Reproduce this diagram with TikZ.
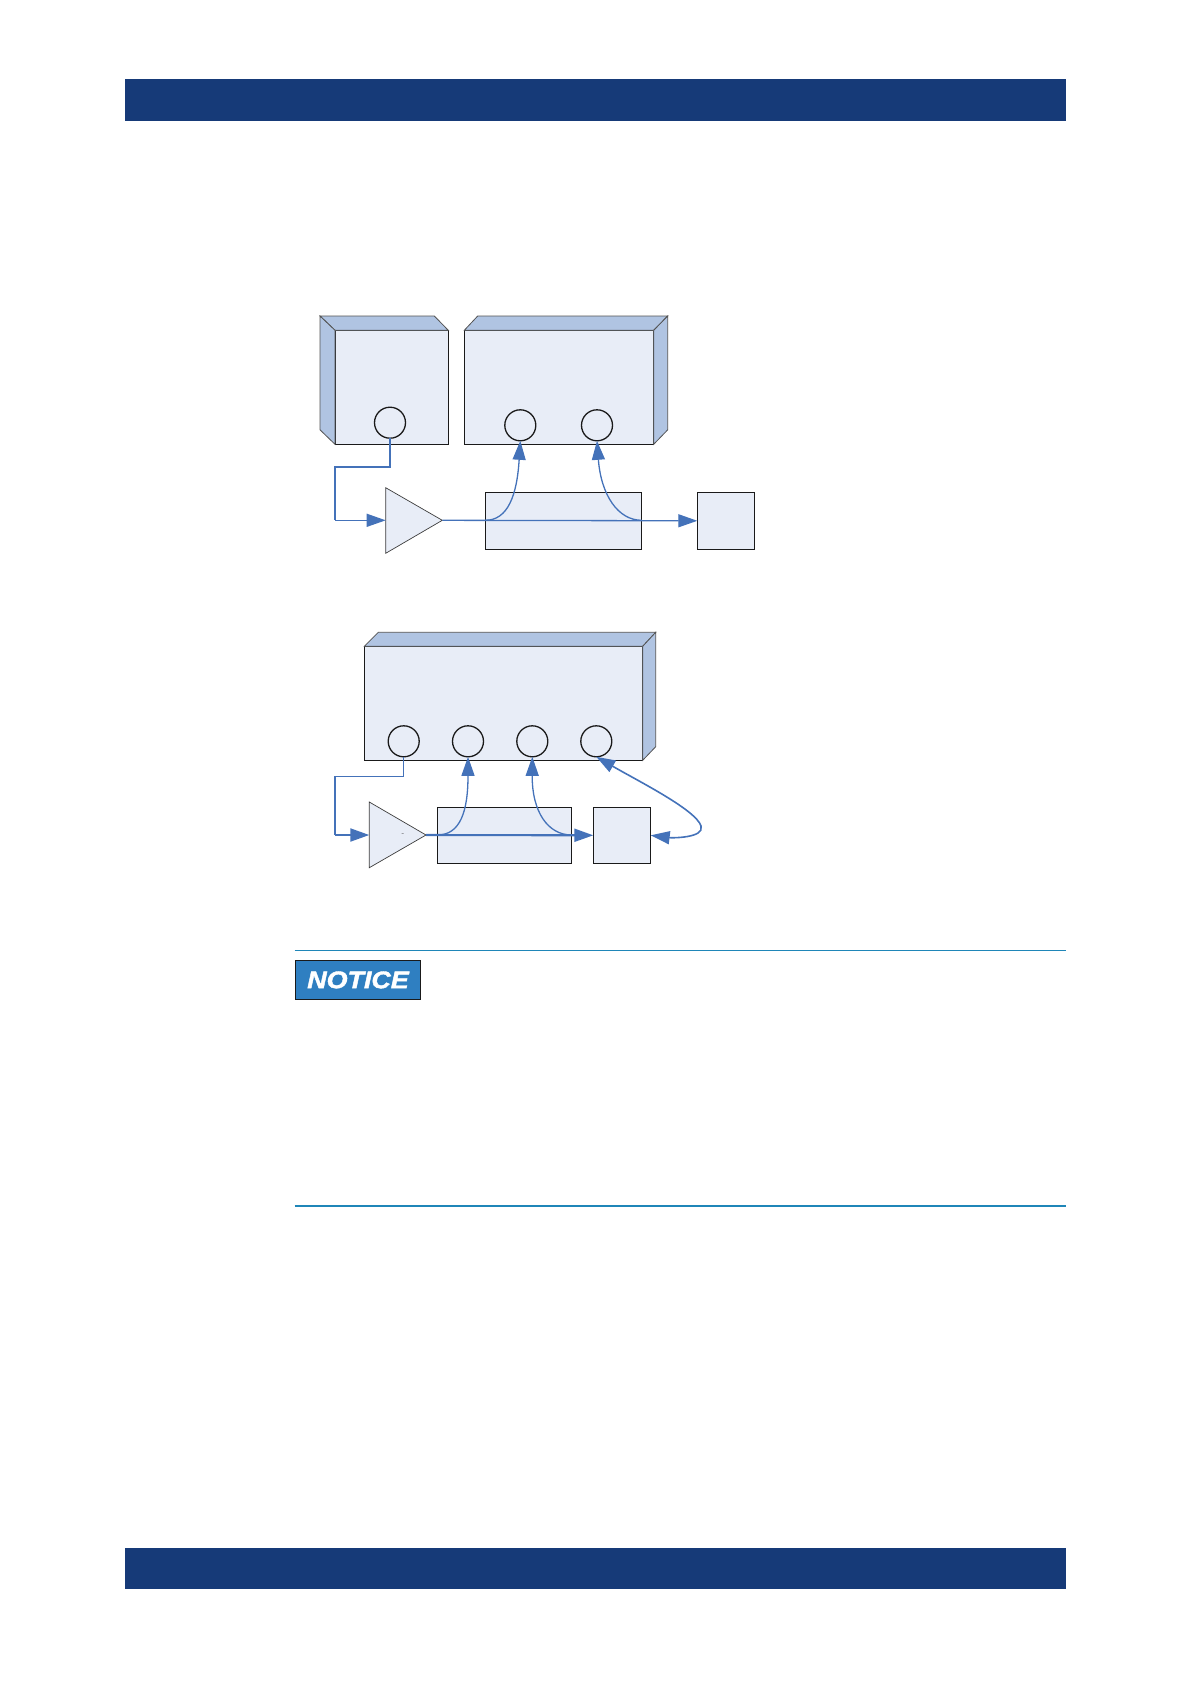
\documentclass[tikz,border=0pt]{standalone}
\usepackage{fontspec}
\usepackage{tikz}
\usetikzlibrary{arrows.meta,calc}
\newfontfamily\noticefont[BoldItalicFeatures={FakeBold=1.6}]{Liberation Sans}
\definecolor{BAR}{HTML}{163A78}
\definecolor{RULE}{HTML}{1F86B8}
\definecolor{BADGE}{HTML}{2F7FC1}
\definecolor{INK}{HTML}{1A1A1A}
\definecolor{FACE}{HTML}{E8EDF7}
\definecolor{SIDE}{HTML}{B0C4E2}
\definecolor{WIRE}{HTML}{4472B9}
\begin{document}
\begin{tikzpicture}[x=1pt,y=-1pt]
\tikzset{bar/.style={fill=BAR,draw=none},rulel/.style={RULE,line width=1.7pt},
 facebox/.style={draw=INK,fill=FACE,line width=1pt,anchor=north west,inner sep=0pt,outer sep=0pt},
 sideface/.style={draw=INK!75,fill=SIDE,line width=0.8pt},
 port/.style={circle,draw=INK,fill=FACE,line width=1.3pt,minimum size=31pt,inner sep=0pt,outer sep=0pt},
 amp/.style={draw=INK!85,fill=FACE,line width=0.7pt},
 tipped/.style={-{Triangle[length=19pt,width=13pt]}},
 wire/.style={WIRE,line width=1.3pt},wirefat/.style={WIRE,line width=2.1pt}}
\useasboundingbox (0,0) rectangle (1191,1684);
\fill[bar] (124.7,79) rectangle (1065.9,120.6);
\fill[bar] (124.7,1547.7) rectangle (1065.9,1588.8);
% upper setup
\node[facebox,minimum width=113.3pt,minimum height=114pt] (gen) at (335,330.3) {};
\node[facebox,minimum width=189.4pt,minimum height=114pt] (ana) at (464.3,330.3) {};
\draw[sideface] (gen.north west)--(320,316)--(434.3,316)--(gen.north east)--cycle;
\draw[sideface] (gen.north west)--(320,316)--(320,429.8)--(gen.south west)--cycle;
\draw[sideface] (ana.north west)--(477.7,316)--(667.7,316)--(ana.north east)--cycle;
\draw[sideface] (ana.north east)--(667.7,316)--(667.7,429.8)--(ana.south east)--cycle;
\node[port] (genout) at (390,422.7) {};
\node[port] (anaa) at (520.3,425.3) {};
\node[port] (anab) at (597,425.3) {};
\coordinate (ampin) at (385.7,520.3);
\coordinate (ampout) at (442.3,520.3);
\draw[amp] (385.7,487.7)--(ampout)--(385.7,553.3)--cycle;
\node[facebox,minimum width=156.4pt,minimum height=57pt] (coup) at (485.3,492.3) {};
\node[facebox,minimum width=57.4pt,minimum height=57pt] (load) at (697.3,492.3) {};
\coordinate (bend) at (390,466.7);
\coordinate (bendb) at (335,466.7);
\coordinate (bendc) at (335,520.3);
\coordinate (split) at (485.3,520.3);
\coordinate (splitb) at (641.7,520.3);
\draw[wirefat,line join=miter] (genout.south)--(bend)--(bendb)--(bendc);
\draw[wire,tipped] (bendc)--(ampin);
\draw[wire,tipped] (ampout)--(load.west);
\draw[wire,tipped] (split) .. controls (508,520.3) and (517,495) .. (anaa.south);
\draw[wire,tipped] (splitb) .. controls (618,520.3) and (601,495) .. (anab.south);
% lower setup
\node[facebox,minimum width=278.4pt,minimum height=114pt] (box) at (364.3,646.3) {};
\draw[sideface] (box.north west)--(378.3,632.3)--(655.7,632.3)--(box.north east)--cycle;
\draw[sideface] (box.north east)--(655.7,632.3)--(655.7,746.7)--(box.south east)--cycle;
\node[port] (pa) at (403.7,741.3) {};
\node[port] (pb) at (468,741.3) {};
\node[port] (pc) at (532.3,741.3) {};
\node[port] (pd) at (596.3,741.3) {};
\coordinate (ampinb) at (369.3,835);
\coordinate (ampoutb) at (426,835);
\draw[amp] (369.3,802)--(ampoutb)--(369.3,867.7)--cycle;
\node[font=\fontsize{7}{7}\selectfont,INK!80,inner sep=0pt] (minus) at (403,835) {-};
\node[facebox,minimum width=134.4pt,minimum height=56pt] (coupb) at (437.3,807.3) {};
\node[facebox,minimum width=57.4pt,minimum height=56pt] (loadb) at (593.3,807.3) {};
\coordinate (lbend) at (403.7,776.3);
\coordinate (lbendb) at (334.7,776.3);
\coordinate (lbendc) at (334.7,835);
\coordinate (lsplit) at (437.3,835);
\coordinate (lsplitb) at (571.7,835);
\draw[wire] (pa.south)--(lbend)--(lbendb);
\draw[wirefat] (lbendb)--(lbendc);
\draw[wirefat,tipped] (lbendc)--(ampinb);
\draw[wirefat,tipped] (ampoutb)--(loadb.west);
\draw[wire,tipped] (lsplit) .. controls (460,835) and (468,812) .. (pb.south);
\draw[wire,tipped] (lsplitb) .. controls (548,835) and (532,812) .. (pc.south);
\draw[wire,line width=1.6pt,{Triangle[length=19pt,width=13pt]}-{Triangle[length=19pt,width=13pt]}] (loadb.east) .. controls (672,838) and (705,838) .. (701,826) .. controls (696,810) and (640,782) .. (pd.south);
% notice
\draw[rulel] (294.6,950.5)--(1065.9,950.5);
\draw[rulel] (294.6,1205.8)--(1065.9,1205.8);
\node[draw=INK,fill=BADGE,line width=1.2pt,anchor=north west,minimum width=125.6pt,minimum height=39.6pt,inner sep=0pt] (badge) at (294.6,959.5) {};
\node[text=white,inner sep=0pt,xscale=1.12,font=\noticefont\bfseries\itshape\fontsize{24}{24}\selectfont] (noticetxt) at (badge.center) {NOTICE};
\end{tikzpicture}
\end{document}
